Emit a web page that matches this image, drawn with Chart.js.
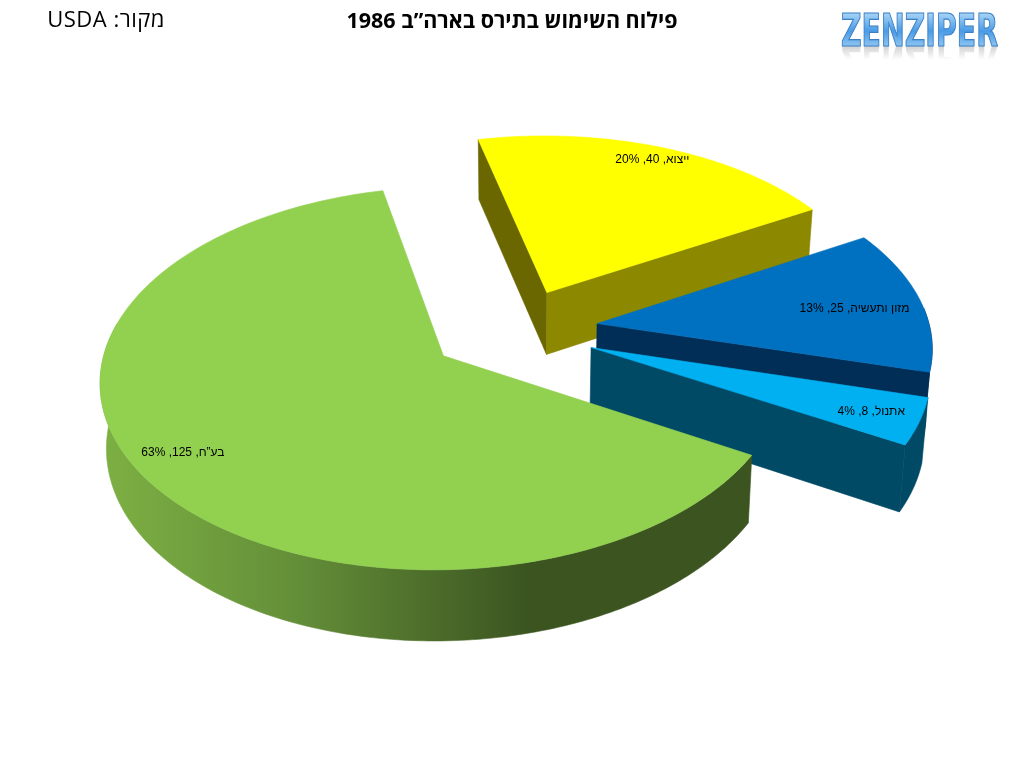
<!DOCTYPE html>
<html>
<head>
<meta charset="utf-8">
<title>פילוח השימוש בתירס בארה"ב 1986</title>
<script src="https://cdn.jsdelivr.net/npm/chart.js@4"></script>
<style>
  html, body { margin: 0; padding: 0; background: #fff; }
  canvas { display: block; }
</style>
</head>
<body>
<canvas id="chart1" width="1024" height="768" dir="rtl"></canvas>
<script>
const categories = ['ייצוא', 'מזון ותעשיה', 'אתנול', 'בע”ח'];
const values = [40, 25, 8, 125];
const percents = [20, 13, 4, 63];

const titleText = 'פילוח השימוש בתירס בארה”ב 1986';
const sourceText = 'מקור: USDA';
const logoText = 'ZENZIPER';

// colours of the faces
const topColors = ['#ffff00', '#0070c0', '#00b0f0', '#92d050'];
const startWall = ['#6a6600', '#002e56', '#004a66', '#3b5420'];
const endWall = ['#8c8800', '#002e56', '#004a66', '#3b5420'];
const outerWall = ['#8c8800', '#002e56', '#004a66', null];

// how far each slice is pulled out, and a small drop on the page
const explode = [64, 76, 74, 96];
const dropY = [-2, 3, 6, -2];
// where the label goes inside a slice: share of the angle, share of the radius
const labelT = [0.5, 0.53, 0.52, 0.51];
const labelR = [0.91, 0.79, 0.86, 0.86];

const TILT = 0.545;
const PERSP = 0.115;

function project(el, i, a, r) {
  const R = el.outerRadius;
  const off = el.options.offset;
  const mid = (el.startAngle + el.endAngle) / 2;
  const X = off * Math.cos(mid) + r * Math.cos(a);
  const Y = off * Math.sin(mid) + r * Math.sin(a);
  const w = 1 - PERSP * Y / R;
  return { x: el.x + X / w, y: el.y + TILT * Y / w + dropY[i], w: w };
}

function lower(el, p) {
  const d = Math.max(60, 63 + 60 * (1 - p.w));
  return { x: el.x + (p.x - el.x) * 0.985, y: p.y + d };
}

function poly(ctx, pts, fill) {
  ctx.beginPath();
  pts.forEach((p, i) => i ? ctx.lineTo(p.x, p.y) : ctx.moveTo(p.x, p.y));
  ctx.closePath();
  ctx.fillStyle = fill;
  ctx.strokeStyle = fill;
  ctx.lineWidth = 0.6;
  ctx.fill();
  ctx.stroke();
}

function arcPoints(el, i, a0, a1) {
  const pts = [];
  const n = Math.max(2, Math.ceil((a1 - a0) * 60));
  for (let k = 0; k <= n; k++) {
    pts.push(project(el, i, a0 + (a1 - a0) * k / n, el.outerRadius));
  }
  return pts;
}

// a cut face only shows when the slice top lies above its edge
function cutVisible(apex, corner, inner) {
  const ex = corner.x - apex.x, ey = corner.y - apex.y;
  const side = ex * (inner.y - apex.y) - ey * (inner.x - apex.x);
  return side * ex < 0;
}

const pie3d = {
  id: 'pie3d',
  beforeDatasetsDraw(chart) {
    const ctx = chart.ctx;
    const arcs = chart.getDatasetMeta(0).data;
    arcs.forEach((el, i) => {
      const R = el.outerRadius;
      const mid = (el.startAngle + el.endAngle) / 2;
      const apex = project(el, i, 0, 0);
      const inner = project(el, i, mid, R / 2);
      const rim = arcPoints(el, i, el.startAngle, el.endAngle);

      const first = rim[0], last = rim[rim.length - 1];
      if (cutVisible(apex, first, inner)) {
        poly(ctx, [apex, first, lower(el, first), lower(el, apex)], startWall[i]);
      }
      if (cutVisible(apex, last, inner)) {
        poly(ctx, [apex, last, lower(el, last), lower(el, apex)], endWall[i]);
      }

      // outer wall, front half only
      const lim = 5 * Math.PI / 180;
      const turns = Math.round((el.startAngle + Math.PI / 2) / (2 * Math.PI));
      const base = turns * 2 * Math.PI;
      const a0 = Math.max(el.startAngle, base - lim);
      const a1 = Math.min(el.endAngle, base + Math.PI + 2 * lim);
      if (a1 > a0) {
        const front = arcPoints(el, i, a0, a1);
        const back = front.map(p => lower(el, p)).reverse();
        let fill = outerWall[i];
        if (!fill) {
          fill = ctx.createLinearGradient(101, 0, 530, 0);
          fill.addColorStop(0, '#7db043');
          fill.addColorStop(0.45, '#648f39');
          fill.addColorStop(1, '#3b5420');
        }
        poly(ctx, front.concat(back), fill);
      }

      poly(ctx, [apex].concat(rim), topColors[i]);

      const la = el.startAngle + (el.endAngle - el.startAngle) * labelT[i];
      const lp = project(el, i, la, R * labelR[i]);
      ctx.fillStyle = '#000';
      ctx.font = '12px "Liberation Sans"';
      ctx.textAlign = 'center';
      ctx.textBaseline = 'middle';
      ctx.fillText(categories[i] + ', ' + values[i] + ', ' + percents[i] + '%', lp.x, lp.y);
    });
    return false;
  },
  afterDraw(chart) {
    const ctx = chart.ctx;
    ctx.save();
    ctx.fillStyle = '#000';
    ctx.textBaseline = 'middle';
    ctx.textAlign = 'center';
    ctx.font = 'bold 21.5px "Open Sans", "DejaVu Sans"';
    ctx.fillText(titleText, 512, 22);

    ctx.font = '22px "Open Sans", "DejaVu Sans"';
    ctx.letterSpacing = '0.5px';
    ctx.textAlign = 'right';
    ctx.fillText(sourceText, 165, 21);
    ctx.letterSpacing = '0px';

    // logo with its mirror image
    ctx.direction = 'ltr';
    ctx.textAlign = 'left';
    ctx.textBaseline = 'alphabetic';
    ctx.font = 'bold 44px "DejaVu Sans Condensed", "DejaVu Sans"';
    const grad = ctx.createLinearGradient(0, 13, 0, 46);
    grad.addColorStop(0, '#a8d4f6');
    grad.addColorStop(0.55, '#4a9be6');
    grad.addColorStop(1, '#8cc4f0');
    ctx.save();
    ctx.translate(0, 92);
    ctx.scale(1, -1);
    ctx.globalAlpha = 0.3;
    const fade = ctx.createLinearGradient(0, 46, 0, 32);
    fade.addColorStop(0, '#666');
    fade.addColorStop(1, '#ffffff');
    ctx.fillStyle = fade;
    ctx.fillText(logoText, 841, 46, 157);
    ctx.restore();
    ctx.fillStyle = grad;
    ctx.strokeStyle = '#3b7fc4';
    ctx.lineWidth = 1.2;
    ctx.fillText(logoText, 841, 46, 157);
    ctx.strokeText(logoText, 841, 46, 157);
    ctx.restore();
  }
};

new Chart(document.getElementById('chart1'), {
  type: 'pie',
  data: {
    labels: categories,
    datasets: [{
      data: values,
      backgroundColor: topColors,
      borderWidth: 0,
      offset: explode
    }]
  },
  options: {
    responsive: false,
    animation: false,
    rotation: -13,
    radius: 333,
    layout: { padding: { left: 20, top: 48, bottom: 164 } },
    plugins: {
      legend: { display: false },
      tooltip: { enabled: false }
    }
  },
  plugins: [pie3d]
});
</script>
</body>
</html>
